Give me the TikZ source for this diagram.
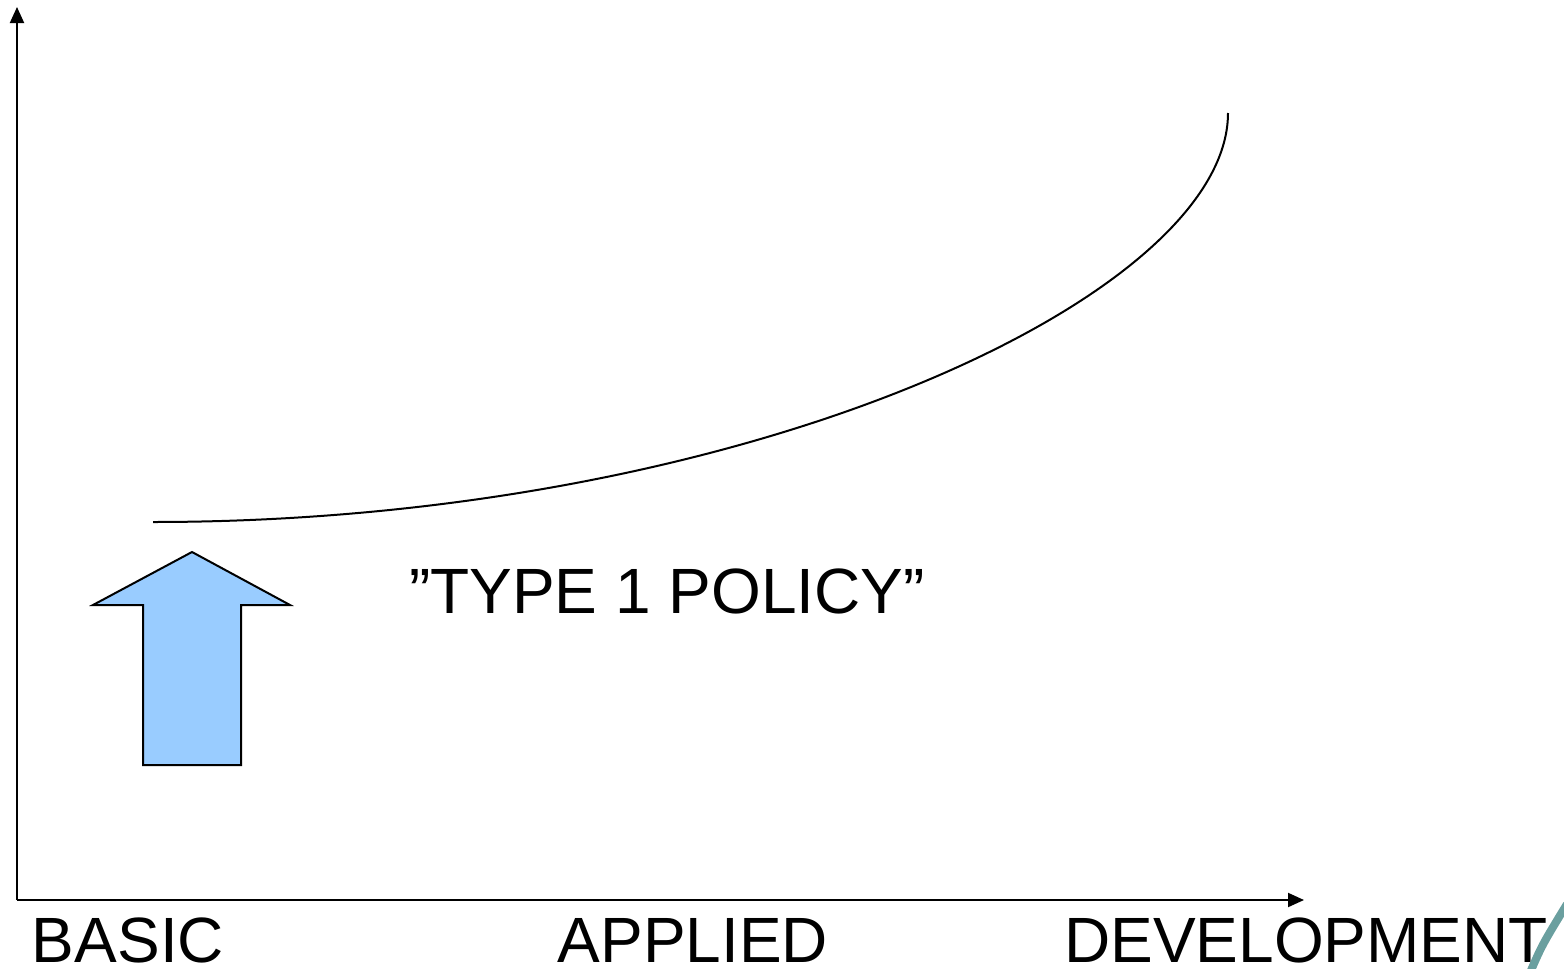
\documentclass[tikz,border=0pt]{standalone}
\usepackage{fontspec}
\setmainfont{Liberation Sans}
\usepackage{xcolor}
\usepackage{tikz}
\usetikzlibrary{arrows.meta, positioning, calc}
\definecolor{pushblue}{HTML}{99CCFF}
\definecolor{slideteal}{HTML}{6A9F9F}

\begin{document}
\begin{tikzpicture}[x = 0.5pt, y = -0.5pt,
  axis/.style = {line width = 1pt, -{Triangle[length = 8pt, width = 7pt]}},
  bigtext/.style = {font = \fontsize{32}{36}\selectfont, inner sep = 0pt, anchor = base}]
\useasboundingbox (0, 0) rectangle (1564, 969);
\coordinate (origin) at (17, 900);
\coordinate (ytop) at (17, 7);
\coordinate (xend) at (1304, 900);
\draw[axis] (origin) -- (ytop);
\draw[axis] (origin) -- (xend);
\foreach \x/\n/\t in {128/basic/BASIC, 693/applied/APPLIED, 1306/devel/DEVELOPMENT}{\node[bigtext] (\n) at (\x, 962) {\t};}
\coordinate (cstart) at (153, 522);
\coordinate (cend) at (1228, 113);
\draw[line width = 1pt] (cstart) .. controls (747, 522) and (1228, 296) .. (cend);
\draw[line width = 1pt, fill = pushblue, line join = miter]
  (192, 552) -- (290, 605) -- (241, 605) -- (241, 765) -- (143, 765) -- (143, 605) -- (93, 605) -- cycle;
\node[bigtext] (policy) at (667, 613) {”TYPE 1 POLICY”};
\draw[slideteal, line width = 4pt] (1529, 975) .. controls (1542, 945) .. (1567, 904);
\end{tikzpicture}
\end{document}
